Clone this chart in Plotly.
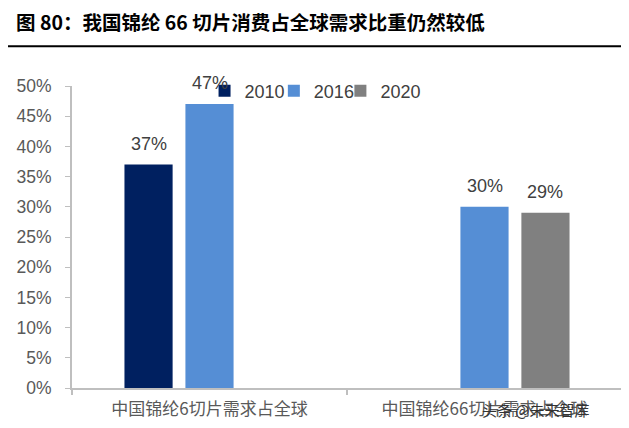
import plotly.graph_objects as go

categories = ["中国锦纶6切片需求占全球", "中国锦纶66切片需求占全球"]
series_names = ["2010", "2016", "2020"]
values_2010 = [0.37, None]
values_2016 = [0.47, 0.30]
values_2020 = [None, 0.29]
colors = ["#002060", "#558ED5", "#808080"]
y_ticks = [0, 0.05, 0.10, 0.15, 0.20, 0.25, 0.30, 0.35, 0.40, 0.45, 0.50]
y_tick_labels = ["0%", "5%", "10%", "15%", "20%", "25%", "30%", "35%", "40%", "45%", "50%"]
title_text = "图 80：我国锦纶 66 切片消费占全球需求比重仍然较低"
watermark = "头条 @未来智库"

num_font = "Liberation Sans, Arial, sans-serif"
cjk_font = "Noto Sans CJK SC, sans-serif"

# layout geometry (page has an 8px body margin)
W, H = 621, 420
ML, MR, MT, MB = 64, 7, 78, 40
BARGAP = 0.335
plot_w = W - ML - MR
cat_w = plot_w / len(categories)
slot = cat_w * (1 - BARGAP) / len(series_names)

all_vals = [values_2010, values_2016, values_2020]
legend_ids = ["legend", "legend2", "legend3"]
legend_x = [0.241, 0.367, 0.488]

fig = go.Figure()
for name, vals, col, lid in zip(series_names, all_vals, colors, legend_ids):
    fig.add_trace(go.Bar(
        name=name, x=categories, y=vals, marker_color=col, marker_line_width=0,
        legend=lid,
    ))

annotations = []
for i, vals in enumerate(all_vals):
    for j, v in enumerate(vals):
        if v is None:
            continue
        annotations.append(dict(
            text=f"{round(v * 100)}%", x=categories[j], y=v, xref="x", yref="y",
            xshift=(i - 1) * slot, yshift=21, xanchor="center", yanchor="middle",
            showarrow=False, font=dict(family=num_font, size=18, color="#404040"),
        ))

annotations += [
    dict(text="<b>" + title_text + "</b>", xref="paper", yref="paper",
         x=-0.105, y=1.212, xanchor="left", yanchor="middle", showarrow=False,
         font=dict(family=cjk_font, size=19.5, color="#000000")),
    dict(text=watermark, xref="paper", yref="paper", x=0.945, y=-0.07,
         xanchor="right", yanchor="middle", showarrow=False,
         font=dict(family=cjk_font, size=15, color="#333333")),
]

legend_style = dict(orientation="h", y=0.983, xanchor="left", yanchor="middle",
                    font=dict(family=num_font, size=18, color="#404040"),
                    bgcolor="rgba(0,0,0,0)", itemwidth=30)

fig.update_layout(
    width=W, height=H,
    paper_bgcolor="white", plot_bgcolor="white",
    margin=dict(l=ML, r=MR, t=MT, b=MB),
    barmode="group", bargap=BARGAP, bargroupgap=0.21,
    showlegend=True,
    legend=dict(x=legend_x[0], **legend_style),
    legend2=dict(x=legend_x[1], **legend_style),
    legend3=dict(x=legend_x[2], **legend_style),
    xaxis=dict(showline=True, linecolor="#BFBFBF", linewidth=2,
               ticks="outside", tickson="boundaries", ticklen=5,
               tickcolor="#BFBFBF", tickwidth=1.5, ticklabelstandoff=5,
               tickfont=dict(family=cjk_font, size=17, color="#595959"),
               showgrid=False, fixedrange=True),
    yaxis=dict(range=[0, 0.5], tickvals=y_ticks, ticktext=y_tick_labels,
               showline=True, linecolor="#BFBFBF", linewidth=2,
               ticks="outside", ticklen=5, tickcolor="#BFBFBF", tickwidth=1,
               ticklabelstandoff=10,
               tickfont=dict(family=num_font, size=17.5, color="#595959"),
               showgrid=False, zeroline=False),
    annotations=annotations,
    shapes=[
        dict(type="line", xref="paper", yref="paper", x0=-0.131, x1=1.013,
             y0=1.132, y1=1.132, line=dict(color="#000000", width=2)),
    ],
)

fig.write_html("out.html")
